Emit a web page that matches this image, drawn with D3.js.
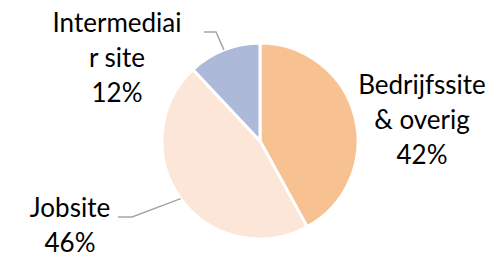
<!DOCTYPE html>
<html><head><meta charset="utf-8">
<script src="https://cdn.jsdelivr.net/npm/d3@7"></script>
<style>html,body{margin:0;padding:0;background:#fff;}svg{display:block;}</style>
</head><body>
<script>
const categories = ["Bedrijfssite & overig", "Jobsite", "Intermediair site"];
const values = [42, 46, 12];
const labelLines = [["Bedrijfssite", "& overig", "42%"], ["Jobsite", "46%"], ["Intermediai", "r site", "12%"]];
const colors = ["#F8C191", "#FCE6D8", "#ACB9D8"];

const W = 498, H = 254;
const cx = 260, cy = 141, r = 98;
const fontSize = 26, lineH = 35;

const svg = d3.select("body").append("svg").attr("width", W).attr("height", H);
const g = svg.append("g").attr("transform", `translate(${cx},${cy})`);

const pie = d3.pie().sort(null).value(d => d)(values);
const arc = d3.arc().innerRadius(0).outerRadius(r);

g.selectAll("path.slice").data(pie).join("path")
  .attr("class", "slice")
  .attr("d", arc)
  .attr("fill", (d, i) => colors[i])
  .attr("stroke", "#fff").attr("stroke-width", 3).attr("stroke-linejoin", "round");

// label anchors (center x, first baseline y) in page coords
const labelPos = [[422, 94], [70, 217], [117, 32]];
// leader line start points (page coords) for labels that need them
const leaderStart = [null, [118, 217], [204, 32]];
const leaderElbow = [null, [132, 217], [216, 32]];

pie.forEach((d, i) => {
  const lines = labelLines[i];
  const [lx, ly] = labelPos[i];
  const t = svg.append("text")
    .attr("font-family", "Lato, 'Open Sans', sans-serif")
    .attr("font-size", fontSize).attr("fill", "#000")
    .attr("text-anchor", "middle");
  lines.forEach((s, k) => {
    t.append("tspan").attr("x", lx).attr("y", ly + k * lineH).text(s);
  });
  if (leaderStart[i]) {
    const mid = (d.startAngle + d.endAngle) / 2;
    const ex = cx + r * Math.sin(mid), ey = cy - r * Math.cos(mid);
    svg.append("polyline")
      .attr("points", [leaderStart[i], leaderElbow[i], [ex, ey]].map(p => p.join(",")).join(" "))
      .attr("fill", "none").attr("stroke", "#A6A6A6").attr("stroke-width", 1.5);
  }
});
</script>
</body></html>
